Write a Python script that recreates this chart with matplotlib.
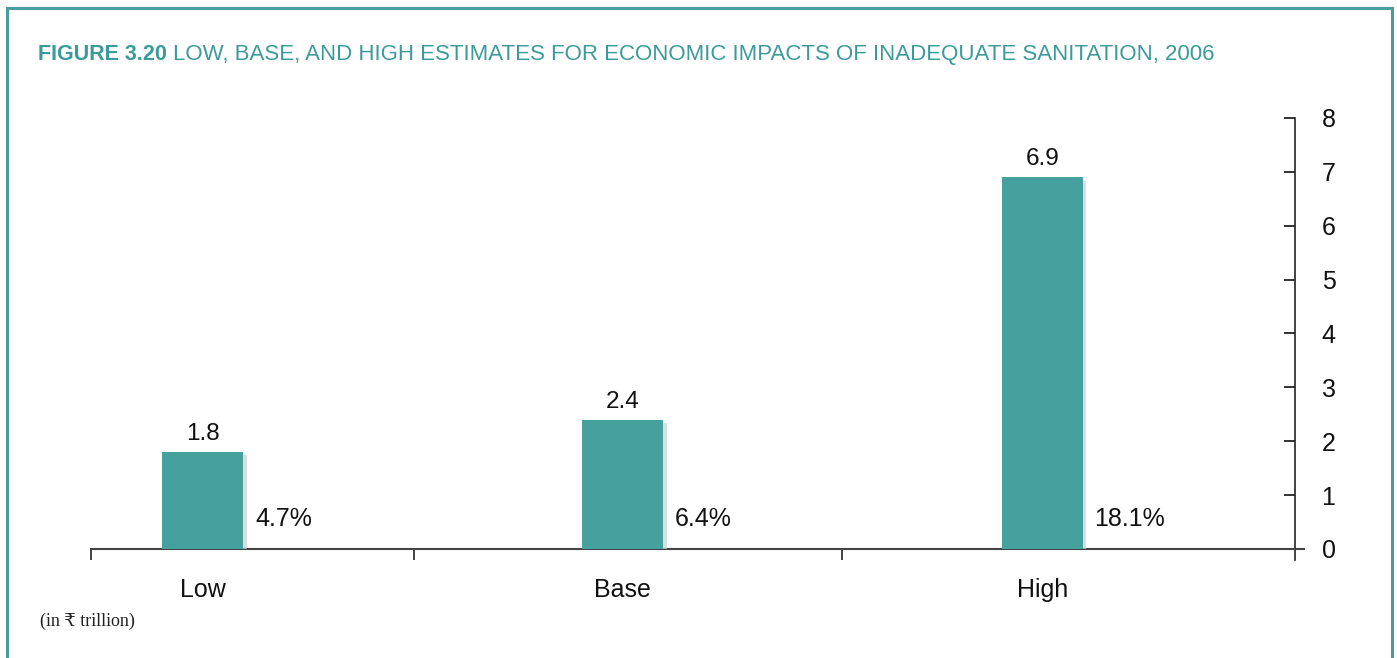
import matplotlib.pyplot as plt
import matplotlib.patheffects as pe
from matplotlib.patches import Rectangle

categories = ['Low', 'Base', 'High']
values = [1.8, 2.4, 6.9]
shares = ['4.7%', '6.4%', '18.1%']
yticks = [0, 1, 2, 3, 4, 5, 6, 7, 8]

teal = '#45a19d'
frame = '#4a9c9e'
title_col = '#3b9a9a'

plt.rcParams['font.family'] = ['Liberation Sans', 'DejaVu Sans']

fig = plt.figure(figsize=(13.97, 6.58), dpi=100)
ax = fig.add_axes([0.0651, 0.1657, 0.862, 0.655])

x = list(range(len(categories)))
bars = ax.bar(x, values, width=0.193, color=teal, zorder=3)
for b in bars:
    b.set_path_effects([pe.SimplePatchShadow(offset=(2.5, -2.5), shadow_rgbFace='#c9d2d2', alpha=0.7), pe.Normal()])

for xi, v, s in zip(x, values, shares):
    ax.text(xi, v + 0.13, f'{v}', ha='center', va='bottom', fontsize=17.5, color='#111111')
    ax.text(xi + 0.125, 0.55, s, ha='left', va='center', fontsize=18, color='#111111')

ax.set_xlim(-0.267, 2.603)
ax.set_ylim(0, 8)

for sp in ['top', 'left']:
    ax.spines[sp].set_visible(False)
ax.spines['right'].set_color('#222222')
ax.spines['bottom'].set_color('#444444')
ax.spines['right'].set_linewidth(1.2)
ax.spines['bottom'].set_linewidth(1.5)
ax.spines['right'].set_bounds(-0.2, 8)
ax.spines['bottom'].set_bounds(-0.267, 2.625)

ax.yaxis.tick_right()
ax.set_yticks(yticks)
ax.tick_params(axis='y', direction='in', length=8, width=1.2, pad=19, labelsize=18, colors='#111111')

ax.set_xticks(x)
ax.set_xticklabels(categories)
ax.set_xticks([-0.267, 0.503, 1.523], minor=True)
ax.tick_params(axis='x', which='major', length=0, pad=21, labelsize=18, colors='#111111')
ax.tick_params(axis='x', which='minor', direction='out', length=8, width=1.2, color='#222222')

ty = 1 - 60 / 658
t1 = fig.text(38 / 1397, ty, 'FIGURE 3.20', fontsize=15.5, fontweight='bold', color=title_col, va='baseline')
r = fig.canvas.get_renderer()
bb = t1.get_window_extent(renderer=r)
fig.text((bb.x1 + 6) / 1397, ty,
         'LOW, BASE, AND HIGH ESTIMATES FOR ECONOMIC IMPACTS OF INADEQUATE SANITATION, 2006',
         fontsize=16, color=title_col, va='baseline')
fig.text(40 / 1397, 1 - 621 / 658, '(in ₹ trillion)', fontsize=13, color='#222222', va='center',
         family=['Liberation Serif', 'DejaVu Serif', 'DejaVu Sans'])

fig.patches.append(Rectangle((7 / 1397, -0.05), 1385 / 1397, 1.05 - 8 / 658, transform=fig.transFigure,
                             fill=False, edgecolor=frame, linewidth=2.2))

fig.savefig('out.png', dpi=100)
